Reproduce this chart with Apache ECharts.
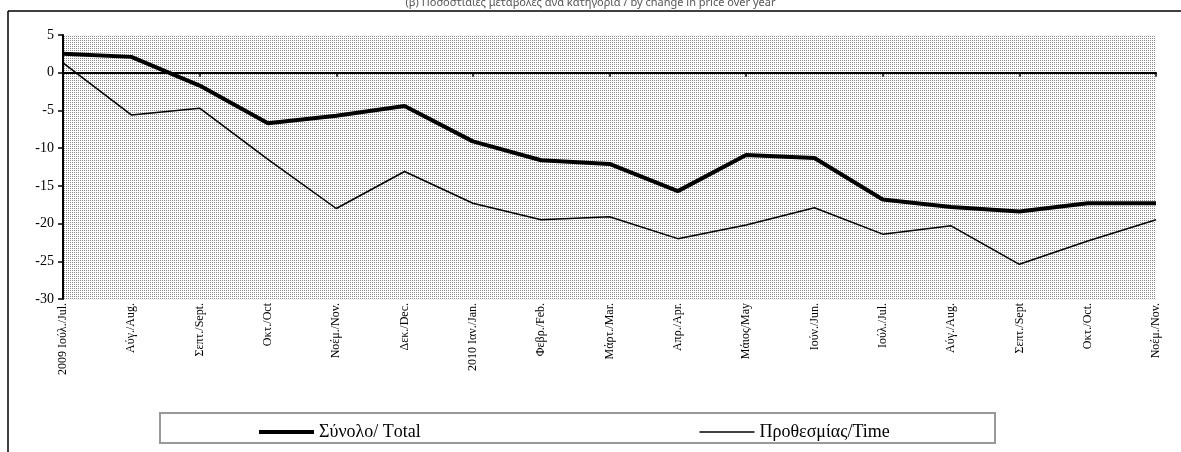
<!DOCTYPE html>
<html>
<head>
<meta charset="utf-8">
<script src="https://cdn.jsdelivr.net/npm/echarts@6/dist/echarts.min.js"></script>
<style>
  html, body { margin: 0; padding: 0; background: #fff; }
  #main { width: 1181px; height: 452px; }
</style>
</head>
<body>
<div id="main"></div>
<script>
// μήνες
var months = ['2009 Ιούλ./Jul.', 'Αύγ./Aug.', 'Σεπτ./Sept.', 'Οκτ./Oct', 'Νοέμ./Nov.', 'Δεκ./Dec.',
  '2010 Ιαν./Jan.', 'Φεβρ./Feb.', 'Μάρτ./Mar.', 'Απρ./Apr.', 'Μάιος/May', 'Ιούν./Jun.',
  'Ιούλ./Jul.', 'Αύγ./Aug.', 'Σεπτ./Sept', 'Οκτ./Oct.', 'Νοέμ./Nov.'];
// Σύνολο / Total
var total = [2.5, 2.1, -1.7, -6.7, -5.7, -4.4, -9.1, -11.6, -12.1, -15.7, -10.9, -11.3, -16.8, -17.8, -18.4, -17.3, -17.3];
// Προθεσμίας / Time
var time = [1.3, -5.6, -4.7, -11.5, -18.0, -13.1, -17.3, -19.5, -19.1, -22.0, -20.2, -17.9, -21.4, -20.3, -25.4, -22.3, -19.5];
var yTicks = { min: -30, max: 5, interval: 5 };

var serif = 'Liberation Serif';

// μοτίβο με τελείες για το φόντο
var cv = document.createElement('canvas');
cv.width = 2; cv.height = 2;
var c = cv.getContext('2d');
c.fillStyle = '#ffffff';
c.fillRect(0, 0, 2, 2);
c.fillStyle = '#8a8a8a';
c.fillRect(0, 0, 1, 1);

var myChart = echarts.init(document.getElementById('main'));
myChart.setOption({
  animation: false,
  backgroundColor: '#fff',
  title: {
    text: '(β) Ποσοστιαίες μεταβολές ανά κατηγορία / by change in price over year',
    left: 'center',
    top: -8,
    textStyle: { fontFamily: 'Noto Sans', fontSize: 11, fontWeight: 'normal', color: '#555' }
  },
  graphic: [
    { type: 'line', shape: { x1: 8, y1: 11, x2: 1181, y2: 11 }, style: { stroke: '#000', lineWidth: 1.5 } },
    { type: 'line', shape: { x1: 8, y1: 11, x2: 8, y2: 452 }, style: { stroke: '#000', lineWidth: 1.5 } },
    { type: 'rect', shape: { x: 160, y: 413, width: 835, height: 30 }, style: { fill: 'none', stroke: '#999', lineWidth: 2 } }
  ],
  grid: {
    left: 63, right: 25, top: 35, bottom: 153,
    show: true,
    backgroundColor: { image: cv, repeat: 'repeat' },
    borderWidth: 0
  },
  legend: {
    left: 252, top: 418,
    itemWidth: 55, itemHeight: 14,
    itemGap: 278,
    itemStyle: { opacity: 0 },
    textStyle: { fontFamily: serif, fontSize: 18, color: '#000' },
    data: [
      { name: 'Σύνολο/ Τotal', lineStyle: { width: 4, color: '#000' } },
      { name: 'Προθεσμίας/Time', lineStyle: { width: 1.5, color: '#000' } }
    ]
  },
  xAxis: [
    {
      type: 'category',
      data: months,
      boundaryGap: false,
      position: 'bottom',
      axisLine: { onZero: true, lineStyle: { color: '#000', width: 2 } },
      axisTick: { show: true, length: 4, lineStyle: { color: '#000', width: 1.5 } },
      axisLabel: { show: false },
      splitLine: { show: true, lineStyle: { color: '#fff', width: 1, type: 'dotted' } }
    },
    {
      type: 'category',
      data: months,
      boundaryGap: false,
      position: 'bottom',
      axisLine: { show: false, onZero: false },
      axisTick: { show: false },
      axisLabel: {
        rotate: 90, margin: 4, interval: 0,
        fontFamily: serif, fontSize: 12, color: '#000'
      },
      splitLine: { show: false }
    }
  ],
  yAxis: {
    type: 'value',
    min: yTicks.min, max: yTicks.max, interval: yTicks.interval,
    axisLine: { show: true, lineStyle: { color: '#000', width: 2 } },
    axisTick: { show: true, length: 5, lineStyle: { color: '#000', width: 1.5 } },
    axisLabel: { margin: 9, fontFamily: serif, fontSize: 14, color: '#000' },
    splitLine: { show: true, lineStyle: { color: '#f4f4f4', width: 1, type: 'dotted' } }
  },
  series: [
    {
      name: 'Σύνολο/ Τotal',
      type: 'line',
      data: total,
      symbol: 'none',
      lineStyle: { color: '#000', width: 4 },
      itemStyle: { color: '#000' }
    },
    {
      name: 'Προθεσμίας/Time',
      type: 'line',
      data: time,
      symbol: 'none',
      lineStyle: { color: '#000', width: 1.5 },
      itemStyle: { color: '#000' }
    }
  ]
});
</script>
</body>
</html>
